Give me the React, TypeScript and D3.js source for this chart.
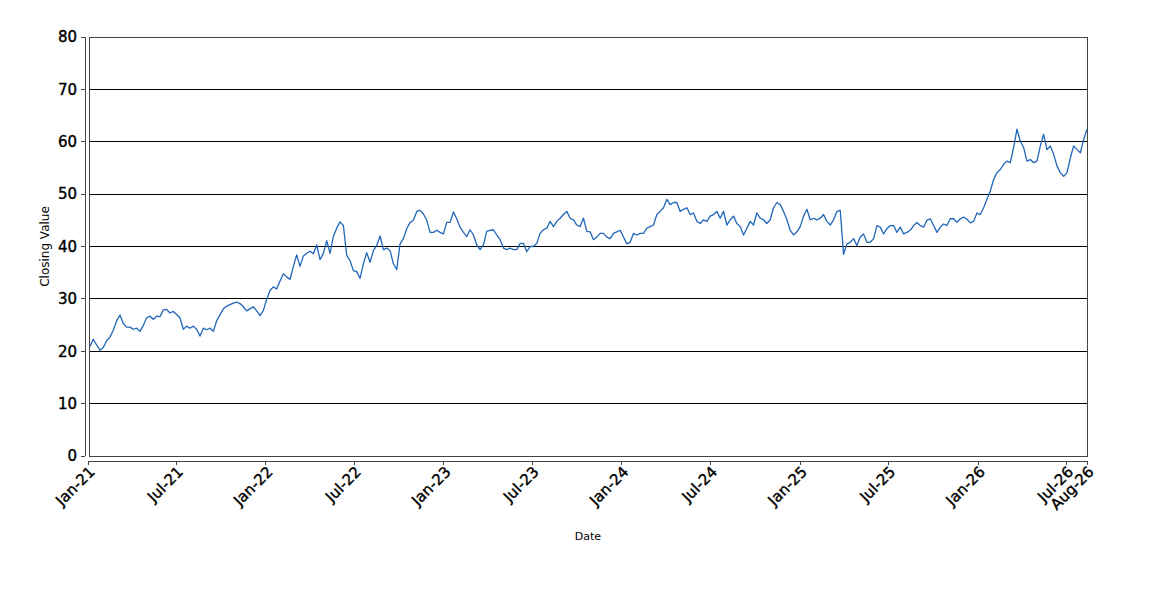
import { useEffect } from 'react'
import * as d3 from 'd3'

// first and last trading day shown, values are spaced evenly between them
const FIRST_DATE = new Date(2021, 0, 5)
const LAST_DATE = new Date(2026, 7, 12)
const AXIS_START = new Date(2021, 0, 1)

const closingValues = [
  20.9, 22.3, 21.2, 20.2, 20.7, 22.0, 22.7, 24.0, 25.8, 26.9,
  25.3, 24.6, 24.6, 24.2, 24.4, 23.8, 24.9, 26.4, 26.7, 26.1,
  26.7, 26.6, 27.9, 28.0, 27.3, 27.6, 27.0, 26.4, 24.2, 24.8,
  24.4, 24.8, 24.2, 22.9, 24.4, 24.1, 24.4, 23.8, 25.8, 27.0,
  28.1, 28.6, 28.9, 29.2, 29.4, 29.1, 28.5, 27.7, 28.1, 28.5,
  27.7, 26.8, 27.8, 29.9, 31.6, 32.3, 31.9, 33.4, 34.8, 34.2,
  33.7, 36.2, 38.4, 36.2, 38.2, 38.7, 39.1, 38.6, 40.3, 37.5,
  38.7, 41.1, 38.7, 41.9, 43.5, 44.7, 44.0, 38.3, 37.3, 35.4,
  35.2, 33.9, 36.7, 38.8, 37.0, 39.2, 40.2, 42.0, 39.4, 39.7,
  39.2, 36.7, 35.6, 40.5, 41.5, 43.4, 44.6, 45.0, 46.7, 46.9,
  46.2, 45.0, 42.7, 42.7, 43.1, 42.7, 42.4, 44.6, 44.6, 46.6,
  45.3, 43.7, 42.7, 41.9, 43.2, 42.2, 40.3, 39.4, 40.3, 42.9,
  43.1, 43.2, 42.2, 41.3, 39.7, 39.4, 39.7, 39.4, 39.4, 40.6,
  40.6, 39.0, 40.0, 40.0, 40.6, 42.5, 43.2, 43.5, 44.8, 43.8,
  44.8, 45.4, 46.1, 46.7, 45.4, 45.1, 44.1, 43.8, 45.4, 42.9,
  42.8, 41.3, 41.8, 42.5, 42.5, 41.8, 41.5, 42.5, 42.8, 43.1,
  41.8, 40.5, 40.8, 42.5, 42.2, 42.5, 42.5, 43.5, 43.8, 44.1,
  46.1, 46.7, 47.4, 49.0, 48.0, 48.4, 48.4, 46.7, 47.1, 47.4,
  46.1, 46.4, 44.8, 44.4, 45.1, 44.8, 45.8, 46.1, 46.7, 45.4,
  46.7, 44.1, 45.1, 45.8, 44.4, 43.8, 42.2, 43.5, 44.8, 44.1,
  46.4, 45.4, 45.1, 44.4, 45.1, 47.4, 48.4, 48.0, 46.7, 45.1,
  43.1, 42.2, 42.8, 43.8, 45.8, 47.1, 45.1, 45.4, 45.1, 45.4,
  46.1, 44.8, 44.1, 45.1, 46.7, 46.9, 38.5, 40.5, 40.8, 41.5,
  40.2, 41.8, 42.4, 40.8, 40.8, 41.5, 44.0, 43.7, 42.4, 43.4,
  44.0, 44.0, 42.7, 43.7, 42.4, 42.7, 43.1, 44.0, 44.6, 44.0,
  43.7, 45.0, 45.3, 44.0, 42.7, 43.7, 44.3, 44.0, 45.3, 45.3,
  44.6, 45.3, 45.6, 45.2, 44.5, 44.8, 46.4, 46.1, 47.4, 49.0,
  50.6, 52.8, 54.1, 54.7, 55.7, 56.3, 56.0, 58.9, 62.4, 60.1,
  58.9, 56.3, 56.6, 56.0, 56.3, 59.2, 61.4, 58.5, 59.2, 57.6,
  55.4, 54.1, 53.4, 54.1, 56.9, 59.2, 58.5, 57.9, 60.4, 62.4,
]

const yTicks = [0, 10, 20, 30, 40, 50, 60, 70, 80]

const width = 1150
const height = 600
const plotLeft = 89
const plotRight = 1087
const plotTop = 37
const plotBottom = 456

export default function App() {
  useEffect(() => {
    document.body.style.margin = '0'
  }, [])

  const x = d3.scaleTime()
    .domain([AXIS_START, LAST_DATE])
    .range([88, plotRight])

  const y = d3.scaleLinear()
    .domain([0, 80])
    .range([plotBottom, plotTop])

  // spread the readings evenly over the traded period
  const dateAt = d3.scaleLinear()
    .domain([0, closingValues.length - 1])
    .range([FIRST_DATE.getTime(), LAST_DATE.getTime()])

  const points = closingValues.map((v, i) => ({ date: new Date(dateAt(i)), value: v }))

  const line = d3.line<{ date: Date; value: number }>()
    .x(d => x(d.date))
    .y(d => y(d.value))

  const fmt = d3.timeFormat('%b-%y')
  const xTicks = [...x.ticks(d3.timeMonth.every(6)!), LAST_DATE]

  const axisY = plotBottom + 5
  const axisX = plotLeft - 4
  const font = '"DejaVu Sans", sans-serif'

  return (
    <svg width={width} height={height} style={{ display: 'block', background: '#fff' }}>
      {/* horizontal grid */}
      {yTicks.map(t => (
        <line key={'g' + t} x1={plotLeft} x2={plotRight} y1={y(t)} y2={y(t)}
          stroke="#000" strokeWidth={1} shapeRendering="crispEdges" />
      ))}
      {/* plot outline */}
      <rect x={plotLeft} y={plotTop} width={plotRight - plotLeft} height={plotBottom - plotTop}
        fill="none" stroke="#444" strokeWidth={1} shapeRendering="crispEdges" />

      <path d={line(points) ?? ''} fill="none" stroke="#2166b8" strokeWidth={1.3}
        strokeLinejoin="round" />

      {/* y axis */}
      <line x1={axisX} x2={axisX} y1={plotTop} y2={plotBottom} stroke="#444"
        shapeRendering="crispEdges" />
      {yTicks.map(t => (
        <g key={'y' + t} transform={`translate(${axisX},${y(t)})`}>
          <line x1={-4} x2={0} stroke="#444" shapeRendering="crispEdges" />
          <text x={-8} dy="0.35em" textAnchor="end" fontFamily={font} fontSize={15}
            fill="#000" stroke="#000" strokeWidth={0.4}>{t}</text>
        </g>
      ))}
      <text transform={`translate(49,${(plotTop + plotBottom) / 2}) rotate(-90)`}
        textAnchor="middle" fontFamily={font} fontSize={12} fill="#000">Closing Value</text>

      {/* x axis */}
      <line x1={88} x2={plotRight} y1={axisY} y2={axisY} stroke="#444"
        shapeRendering="crispEdges" />
      {xTicks.map(t => (
        <g key={'x' + t.getTime()} transform={`translate(${x(t)},${axisY})`}>
          <line y1={0} y2={4} stroke="#444" shapeRendering="crispEdges" />
          <text transform="translate(4,8) rotate(-45)" textAnchor="end" dy="0.35em"
            fontFamily={font} fontSize={15} fill="#000" stroke="#000"
            strokeWidth={0.4}>{fmt(t)}</text>
        </g>
      ))}
      <text x={(plotLeft + plotRight) / 2} y={540} textAnchor="middle" fontFamily={font}
        fontSize={11} fill="#000">Date</text>
    </svg>
  )
}
